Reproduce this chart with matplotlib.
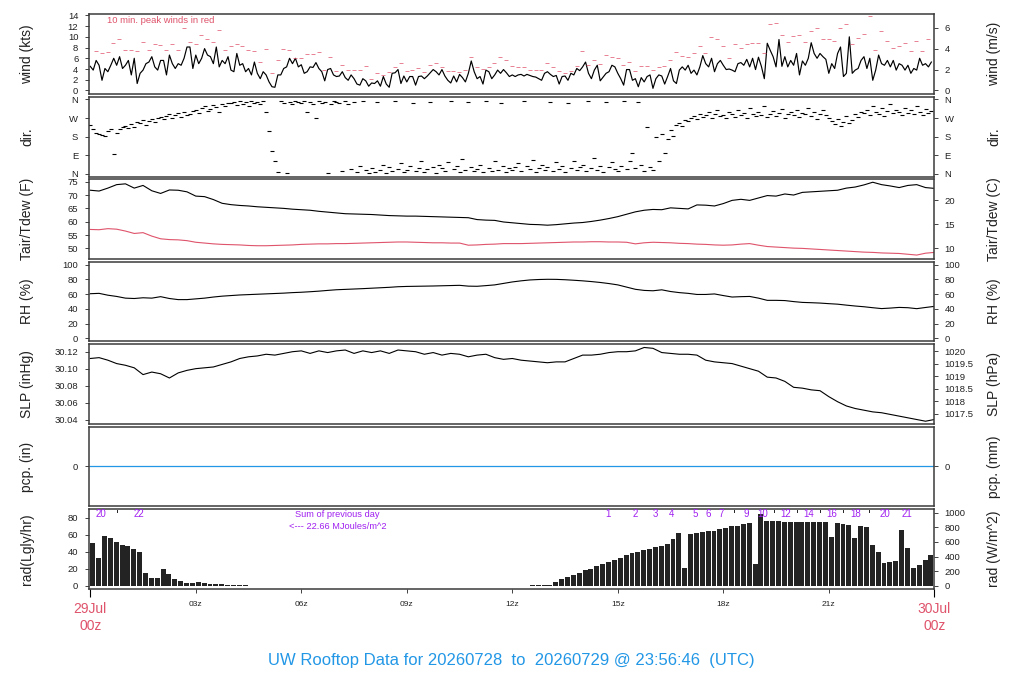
import numpy as np
import matplotlib
matplotlib.use('Agg')
import matplotlib.pyplot as plt

plt.rcParams['font.family'] = ['Liberation Sans', 'DejaVu Sans']

# ---------------- data ----------------
# 5-minute wind speed (kts)
wind_kts = [
 4.5, 3.8, 5.6, 4.7, 1.9, 4.1, 3.5, 4.7, 6.0, 4.7, 6.3, 4.1,
 4.7, 5.6, 2.9, 6.0, 1.3, 3.2, 3.8, 5.0, 5.3, 6.3, 4.4, 3.8,
 5.6, 5.6, 2.9, 6.6, 5.0, 4.1, 5.0, 4.7, 6.0, 8.1, 8.1, 4.1,
 6.6, 5.0, 6.0, 7.8, 6.6, 6.3, 5.0, 8.1, 4.4, 5.6, 5.0, 6.3,
 3.8, 3.5, 6.9, 4.7, 5.0, 3.5, 4.1, 2.9, 5.3, 3.2, 2.2, 3.5,
 2.9, 1.6, 0.7, 0.6, 2.9, 2.9, 4.1, 4.4, 6.0, 5.0, 6.0, 4.4,
 4.8, 3.2, 3.5, 4.4, 4.3, 5.2, 4.1, 3.5, 1.8, 3.9, 4.1, 2.9,
 2.6, 2.7, 3.5, 2.4, 1.9, 2.9, 2.2, 1.2, 1.0, 2.2, 1.8, 0.8,
 1.4, 1.3, 1.8, 0.8, 2.6, 1.2, 0.6, 3.2, 3.3, 3.9, 1.3, 2.7,
 1.6, 2.6, 2.6, 1.0, 2.6, 2.7, 2.2, 2.7, 3.3, 3.9, 3.5, 2.9,
 3.9, 2.7, 1.9, 1.4, 2.7, 1.6, 3.0, 2.4, 1.6, 3.2, 5.5, 3.5,
 2.2, 2.6, 1.2, 3.8, 3.5, 2.2, 2.9, 3.8, 3.2, 3.9, 3.3, 2.6,
 2.9, 2.6, 2.9, 3.0, 2.7, 3.0, 2.8, 2.6, 2.5, 2.2, 1.9, 3.2,
 3.5, 3.0, 2.6, 2.8, 1.2, 2.6, 2.7, 1.9, 3.2, 2.9, 4.1, 3.7,
 4.4, 5.3, 3.2, 2.2, 3.8, 4.7, 1.8, 2.5, 3.2, 3.5, 4.7, 4.4,
 3.2, 2.2, 1.0, 3.9, 3.9, 1.9, 2.2, 0.7, 2.4, 1.6, 2.6, 2.9,
 0.4, 2.2, 2.9, 2.7, 1.2, 2.6, 4.1, 1.8, 1.3, 3.8, 4.4, 3.8,
 4.7, 3.2, 3.8, 2.9, 4.4, 6.5, 5.0, 4.4, 6.0, 3.5, 5.0, 5.6,
 4.7, 3.9, 4.0, 3.8, 3.5, 5.0, 5.2, 4.7, 5.8, 4.4, 6.0, 3.9,
 6.2, 4.5, 2.2, 8.8, 7.5, 6.3, 4.4, 9.5, 4.5, 6.3, 4.4, 5.6,
 4.7, 6.9, 2.9, 5.5, 4.7, 6.0, 8.9, 6.9, 6.0, 6.9, 6.3, 5.8,
 3.2, 5.0, 4.1, 6.9, 8.1, 2.6, 3.2, 10.0, 3.2, 3.8, 4.1, 5.6,
 6.3, 4.1, 6.0, 1.9, 3.8, 6.6, 5.0, 4.7, 5.6, 4.4, 5.6, 3.8,
 5.0, 4.7, 3.8, 4.7, 3.2, 4.1, 3.8, 6.0, 4.7, 5.0, 4.4, 5.3,
]

# 10-minute peak winds (kts)
peak_kts = [
 7.4, 6.9, 7.2, 8.9, 9.6, 7.6, 7.6, 7.3, 9.1, 7.6, 8.7, 8.5,
 7.6, 8.7, 7.5, 11.6, 9.1, 8.6, 10.4, 9.6, 9.1, 11.2, 7.5, 8.2,
 8.6, 8.2, 7.5, 7.3, 5.3, 7.8, 3.2, 5.6, 7.8, 7.6, 6.0, 6.0,
 6.8, 6.8, 7.1, 3.8, 6.2, 3.7, 4.8, 3.9, 3.9, 3.9, 4.6, 2.2,
 3.2, 2.8, 3.5, 4.4, 5.2, 3.7, 3.9, 4.1, 3.5, 4.8, 5.2, 4.3,
 3.7, 3.7, 3.5, 3.9, 6.3, 4.3, 4.0, 4.3, 5.2, 6.3, 5.6, 4.6,
 4.3, 4.3, 3.9, 3.9, 3.9, 5.2, 4.3, 3.7, 3.2, 3.7, 4.6, 7.3,
 4.8, 5.6, 5.0, 6.7, 6.3, 6.1, 4.8, 5.4, 3.7, 4.6, 4.5, 3.9,
 4.3, 4.5, 5.6, 7.1, 6.5, 6.3, 6.9, 8.2, 6.9, 9.9, 9.5, 8.2,
 6.0, 8.6, 8.0, 8.6, 8.9, 8.8, 6.9, 12.3, 12.5, 10.4, 9.1, 10.1,
 10.3, 9.1, 11.0, 11.7, 9.5, 9.5, 9.3, 11.6, 12.3, 8.6, 9.7, 10.6,
 13.8, 7.6, 11.0, 9.3, 8.0, 8.2, 8.8, 7.3, 9.3, 7.3, 9.5,
]

# 5-minute wind direction (degrees)
wind_dir = [
 235, 215, 200, 195, 190, 185, 205, 215, 95, 200, 215, 225,
 230, 220, 240, 225, 250, 245, 260, 235, 255, 265, 250, 270,
 275, 265, 280, 290, 270, 285, 295, 275, 300, 285, 290, 305,
 310, 295, 320, 330, 305, 315, 335, 325, 300, 340, 330, 345,
 345, 350, 335, 355, 340, 350, 330, 355, 345, 350, 340, 355,
 300, 205, 110, 60, 10, 355, 345, 5, 350, 340, 355, 350,
 345, 355, 300, 350, 340, 270, 355, 345, 350, 5, 340, 355,
 350, 345, 15, 355, 340, 25, 350, 10, 40, 355, 20, 5,
 30, 10, 350, 20, 45, 5, 35, 15, 355, 25, 50, 10,
 20, 40, 345, 15, 30, 60, 10, 25, 350, 35, 5, 45,
 30, 15, 55, 355, 25, 40, 10, 70, 20, 350, 35, 15,
 25, 45, 10, 355, 30, 15, 60, 20, 345, 40, 10, 30,
 20, 35, 50, 15, 355, 40, 25, 65, 10, 30, 45, 20,
 35, 350, 15, 55, 25, 40, 10, 345, 30, 60, 20, 35,
 45, 15, 355, 30, 75, 20, 40, 10, 350, 35, 55, 25,
 15, 40, 355, 25, 60, 100, 30, 350, 45, 15, 225, 35,
 20, 180, 60, 195, 100, 170, 210, 185, 235, 245, 230, 260,
 255, 270, 280, 265, 290, 275, 285, 300, 270, 290, 310, 280,
 285, 270, 300, 290, 275, 310, 285, 295, 270, 320, 290, 280,
 300, 285, 330, 275, 290, 305, 280, 295, 315, 270, 290, 300,
 285, 310, 275, 295, 290, 320, 280, 300, 265, 290, 310, 285,
 270, 255, 240, 265, 230, 250, 280, 245, 260, 290, 275, 300,
 295, 310, 285, 330, 300, 290, 320, 280, 305, 340, 295, 310,
 300, 285, 320, 295, 310, 290, 330, 300, 285, 315, 295, 305,
]

# 15-minute air temperature / dew point (F)
tair_f = [
 71.8, 71.5, 72.6, 73.9, 74.2, 72.6, 73.6, 71.6,
 70.6, 71.9, 71.8, 71.2, 69.6, 69.4, 68.3, 66.9,
 66.4, 66.1, 65.9, 65.6, 65.4, 65.2, 65.0, 64.7,
 64.5, 64.3, 63.9, 63.6, 63.3, 63.0, 62.9, 62.8,
 62.7, 62.5, 62.3, 62.2, 62.1, 62.1, 62.0, 61.9,
 61.8, 61.7, 61.6, 61.5, 60.8, 60.6, 60.5, 59.9,
 59.6, 59.3, 59.0, 58.9, 58.7, 58.9, 59.2, 59.5,
 59.7, 60.1, 60.6, 61.2, 61.9, 62.8, 63.7, 64.3,
 64.6, 64.5, 65.2, 65.0, 64.8, 66.3, 66.2, 65.9,
 66.8, 68.0, 68.4, 68.0, 68.9, 69.8, 69.6, 70.4,
 70.0, 71.0, 71.2, 71.4, 71.6, 71.8, 72.6, 73.0,
 73.8, 74.8, 73.9, 73.4, 72.8, 73.6, 73.9, 72.8,
 72.5,
]
tdew_f = [
 57.1, 57.0, 57.4, 57.2, 56.5, 55.6, 55.9, 54.6,
 53.6, 53.3, 53.2, 52.9, 52.3, 52.0, 51.7, 51.5,
 51.4, 51.3, 51.1, 51.0, 51.0, 51.1, 51.2, 51.3,
 51.5, 51.6, 51.7, 51.7, 51.8, 51.8, 51.9, 52.0,
 52.1, 52.2, 52.3, 52.4, 52.4, 52.3, 52.2, 52.1,
 52.1, 52.0, 52.0, 51.2, 51.3, 51.5, 51.6, 51.8,
 51.8, 51.8, 51.9, 52.0, 52.1, 52.2, 52.3, 52.4,
 52.4, 52.5, 52.5, 52.4, 52.4, 52.3, 51.7, 52.1,
 52.3, 52.2, 52.1, 51.9, 51.8, 51.6, 51.5, 51.3,
 51.2, 51.3, 51.6, 51.8, 51.2, 50.7, 50.5, 50.3,
 50.1, 50.0, 49.8, 49.6, 49.4, 49.2, 49.0, 48.8,
 48.6, 48.5, 48.3, 48.2, 48.1, 47.8, 47.5, 48.2,
 48.5,
]
# 15-minute relative humidity (%)
rh_pct = [
 60.5, 61.0, 58.5, 56.8, 54.5, 54.0, 55.0, 54.5,
 56.5, 54.0, 52.5, 52.5, 53.5, 54.5, 56.0, 57.2,
 58.0, 58.8, 59.3, 59.8, 60.3, 60.8, 61.3, 62.0,
 62.5, 63.2, 64.0, 65.0, 65.9, 66.4, 66.9, 67.4,
 68.0, 68.6, 69.2, 70.0, 70.4, 70.6, 70.8, 71.0,
 71.3, 71.6, 71.9, 70.8, 70.6, 71.5, 72.5, 74.5,
 76.5, 78.0, 79.2, 79.8, 80.1, 80.0, 79.5, 78.8,
 78.0, 77.0, 75.8, 74.3, 72.5, 69.5, 66.5, 65.0,
 64.5, 65.8, 63.5, 62.0, 61.0, 59.5, 59.5, 60.2,
 58.0, 56.0, 56.5, 56.8, 54.5, 51.5, 51.5, 51.2,
 49.8, 48.7, 48.3, 47.8, 47.0, 46.3, 45.0, 43.8,
 42.8, 41.5, 40.3, 41.0, 41.9, 41.5, 40.2, 41.8,
 43.3,
]
# 15-minute sea level pressure (inHg)
slp_inhg = [
 30.112, 30.113, 30.110, 30.106, 30.104, 30.101, 30.093, 30.096,
 30.094, 30.089, 30.095, 30.098, 30.100, 30.101, 30.102, 30.105,
 30.108, 30.112, 30.114, 30.115, 30.117, 30.116, 30.118, 30.120,
 30.121, 30.118, 30.121, 30.119, 30.121, 30.122, 30.118, 30.121,
 30.119, 30.121, 30.118, 30.122, 30.121, 30.120, 30.117, 30.119,
 30.116, 30.118, 30.117, 30.114, 30.116, 30.117, 30.113, 30.111,
 30.112, 30.110, 30.109, 30.108, 30.107, 30.108, 30.108, 30.112,
 30.116, 30.116, 30.117, 30.119, 30.120, 30.120, 30.121, 30.125,
 30.124, 30.119, 30.118, 30.117, 30.117, 30.116, 30.110, 30.108,
 30.107, 30.106, 30.103, 30.100, 30.097, 30.090, 30.089, 30.085,
 30.078, 30.077, 30.075, 30.074, 30.067, 30.061, 30.056, 30.053,
 30.051, 30.049, 30.048, 30.046, 30.044, 30.042, 30.040, 30.038,
 30.040,
]
# hourly precipitation (in)
pcp_in = [0.0] * 25

# 10-minute solar radiation (W/m^2)
rad_wm2 = [
 588, 378, 679, 650, 600, 561, 540, 500, 460, 181, 104, 104,
 226, 160, 90, 59, 45, 45, 50, 36, 30, 23, 20, 16,
 14, 10, 6,
] + [0] * 47 + [
 4, 5, 6, 7, 10,
 58, 95, 120, 148, 180, 213, 235, 270, 300, 325, 355, 385,
 420, 445, 460, 490, 505, 530, 548, 570, 640, 715,
 240, 701, 715, 738, 745, 747, 770, 790, 810, 820, 837, 851,
 300, 987, 880, 883, 880, 875, 873, 873, 873, 873, 873, 870,
 870, 670, 864, 850, 835, 650, 818, 806, 556, 466, 308, 320,
 345, 760, 511, 240, 285, 353, 420,
]

# cumulative radiation marks (MJ/m^2)
mj_hours = [0.30, 0.77, 1.38, 14.73, 15.50, 16.08, 16.54, 17.20, 17.57, 17.95,
            18.30, 18.65, 19.13, 19.45, 19.77, 20.09, 20.42, 20.75, 21.07,
            21.41, 21.76, 22.13, 22.59, 23.22]
mj_labels = ['20', '', '22', '1', '2', '3', '4', '5', '6', '7',
             '', '9', '10', '', '12', '', '14', '', '16',
             '', '18', '', '20', '21']

hour_ticks = [3, 6, 9, 12, 15, 18, 21]
hour_labels = ['03z', '06z', '09z', '12z', '15z', '18z', '21z']
day_ticks = [0, 24]
day_labels = ['29Jul', '30Jul']

title = 'UW Rooftop Data for 20260728  to  20260729 @ 23:56:46  (UTC)'

# ---------------- figure ----------------
W, H = 1024, 700
fig = plt.figure(figsize=(W / 100, H / 100), dpi=100)

RED = '#DF536B'
BLUE = '#2297E6'
PURPLE = '#A020F0'
TXT = '#222222'
LX0, LX1 = 88.7, 934.3
PH = 79.5
tops = [14, 97, 179.3, 261.7, 344, 426.7, 509.3]


def make_ax(top):
    return fig.add_axes([LX0 / W, 1 - (top + PH) / H, (LX1 - LX0) / W, PH / H])


def style(ax, ylim, ticks, labels):
    ax.set_xlim(-0.045, 24.0)
    ax.set_ylim(*ylim)
    ax.set_yticks(ticks)
    ax.set_yticklabels(labels)
    ax.tick_params(axis='y', direction='out', length=3, width=0.6, pad=4.5,
                   labelsize=6.8, colors=TXT)
    ax.set_xticks([])
    for s in ax.spines.values():
        s.set_color('#3a3a3a')
        s.set_linewidth(1.1)


def right_axis(ax, fwd, inv, ticks, labels):
    sec = ax.secondary_yaxis('right', functions=(fwd, inv))
    sec.set_yticks(ticks)
    sec.set_yticklabels(labels)
    sec.tick_params(axis='y', direction='out', length=3, width=0.6, pad=4.5,
                    labelsize=6.8, colors=TXT)
    sec.spines['right'].set_visible(False)
    return sec


def ylabels(top, left, right):
    yc = 1 - (top + PH / 2) / H
    fig.text(27 / W, yc, left, rotation=90, ha='center', va='center', fontsize=10, color=TXT)
    fig.text(994 / W, yc, right, rotation=90, ha='center', va='center', fontsize=10, color=TXT)


ident = (lambda v: v, lambda v: v)

t5 = np.arange(len(wind_kts)) / 12.0
t_peak = 0.16 + np.arange(len(peak_kts)) / 6.0
t15 = np.arange(len(tair_f)) * 0.25
t_pcp = np.arange(len(pcp_in), dtype=float)
t_rad = np.arange(len(rad_wm2)) / 6.0

# 1 wind
ax1 = make_ax(tops[0])
ax1.plot(t5, wind_kts, color='black', lw=0.85)
ax1.plot(t_peak, peak_kts, ls='none', marker='_', ms=3, mew=0.6, color=RED, alpha=0.85)
ax1.text(0.466, 13.1, '10 min. peak winds in red', color=RED, fontsize=6.8,
         ha='left', va='center')
style(ax1, (-0.56, 14.25), list(range(0, 15, 2)), [str(v) for v in range(0, 15, 2)])
right_axis(ax1, lambda v: v / 1.94384, lambda v: v * 1.94384, [0, 2, 4, 6], ['0', '2', '4', '6'])
ylabels(tops[0], 'wind (kts)', 'wind (m/s)')

# 2 direction
ax2 = make_ax(tops[1])
ax2.plot(t5, wind_dir, ls='none', marker='_', ms=3.5, mew=0.8, color='black')
dir_ticks = [0, 90, 180, 270, 360]
dir_labels = ['N', 'E', 'S', 'W', 'N']
style(ax2, (-13, 372), dir_ticks, dir_labels)
right_axis(ax2, *ident, dir_ticks, dir_labels)
ylabels(tops[1], 'dir.', 'dir.')

# 3 temperature
ax3 = make_ax(tops[2])
ax3.plot(t15, tair_f, color='black', lw=0.8)
ax3.plot(t15, tdew_f, color=RED, lw=0.8)
style(ax3, (46.1, 75.9), [50, 55, 60, 65, 70, 75], ['50', '55', '60', '65', '70', '75'])
right_axis(ax3, lambda f: (f - 32) / 1.8, lambda c: c * 1.8 + 32, [10, 15, 20], ['10', '15', '20'])
ylabels(tops[2], 'Tair/Tdew (F)', 'Tair/Tdew (C)')

# 4 RH
ax4 = make_ax(tops[3])
ax4.plot(t15, rh_pct, color='black', lw=0.8)
rh_ticks = list(range(0, 101, 20))
style(ax4, (-4, 104), rh_ticks, [str(v) for v in rh_ticks])
right_axis(ax4, *ident, rh_ticks, [str(v) for v in rh_ticks])
ylabels(tops[3], 'RH (%)', 'RH (%)')

# 5 SLP
ax5 = make_ax(tops[4])
ax5.plot(t15, slp_inhg, color='black', lw=0.8)
slp_ticks = [30.04, 30.06, 30.08, 30.10, 30.12]
style(ax5, (30.0353, 30.1291), slp_ticks, ['%.2f' % v for v in slp_ticks])
hpa_ticks = [1017.5, 1018, 1018.5, 1019, 1019.5, 1020]
right_axis(ax5, lambda v: v * 33.8639, lambda v: v / 33.8639, hpa_ticks,
           ['1017.5', '1018', '1018.5', '1019', '1019.5', '1020'])
ylabels(tops[4], 'SLP (inHg)', 'SLP (hPa)')

# 6 precipitation
ax6 = make_ax(tops[5])
ax6.plot(t_pcp, pcp_in, color=BLUE, lw=0.9)
style(ax6, (-1, 1), [0], ['0'])
right_axis(ax6, lambda v: v * 25.4, lambda v: v / 25.4, [0], ['0'])
ylabels(tops[5], 'pcp. (in)', 'pcp. (mm)')

# 7 radiation
ax7 = make_ax(tops[6])
rad_ly = np.array(rad_wm2, dtype=float) / 11.63
ax7.bar(t_rad, rad_ly, width=0.14, align='edge', color='#232323', lw=0)
style(ax7, (-3.5, 89.8), [0, 20, 40, 60, 80], ['0', '20', '40', '60', '80'])
right_axis(ax7, lambda v: v * 11.63, lambda v: v / 11.63, [0, 200, 400, 600, 800, 1000],
           ['0', '200', '400', '600', '800', '1000'])
ylabels(tops[6], 'rad(Lgly/hr)', 'rad (W/m^2)')
for h, lab in zip(mj_hours, mj_labels):
    if lab:
        ax7.text(h, 83.7, lab, color=PURPLE, fontsize=7, ha='center', va='center')
    else:
        ax7.plot([h, h], [86.8, 89.3], color=TXT, lw=0.7)
ax7.text(7.03, 83.5, 'Sum of previous day', color=PURPLE, fontsize=6.7, ha='center', va='center')
ax7.text(7.03, 70.2, '<--- 22.66 MJoules/m^2', color=PURPLE, fontsize=6.7, ha='center', va='center')

ax7.set_xticks(hour_ticks)
ax7.set_xticklabels(hour_labels)
ax7.set_xticks(day_ticks, minor=True)
ax7.tick_params(axis='x', which='major', direction='out', length=3.1, width=0.6, pad=6,
                labelsize=6, colors=TXT)
ax7.tick_params(axis='x', which='minor', direction='out', length=5.5, width=0.8)

for h, lab in zip(day_ticks, day_labels):
    xp = (90.3 + h * 35.17) / W
    fig.text(xp, 1 - 609.3 / H, lab, color=RED, fontsize=10, ha='center', va='center')
    fig.text(xp, 1 - 626 / H, '00z', color=RED, fontsize=10, ha='center', va='center')

fig.text(511.5 / W, 1 - 660 / H, title, color=BLUE, fontsize=12, ha='center', va='center')

fig.savefig('out.png', dpi=100)
